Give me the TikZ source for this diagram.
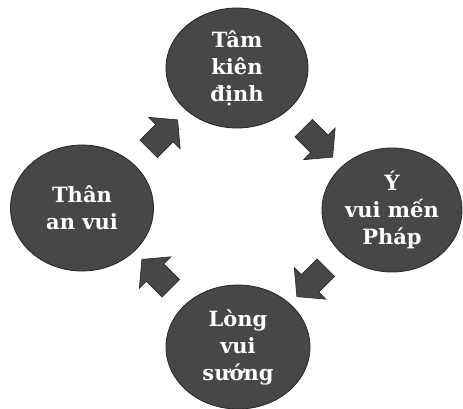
\documentclass[tikz,border=0pt]{standalone}
\usepackage{fontspec}
\setmainfont{DejaVu Serif}
\usetikzlibrary{shapes.geometric,shapes.arrows,calc}

\begin{document}
\begin{tikzpicture}[x=1pt, y=-1pt,
  stage/.style={ellipse, draw=black!85, line width=0.8pt, fill=black!72,
    text=white, align=center, inner sep=0pt,
    font=\fontsize{21}{27}\selectfont\bfseries},
  flowarrow/.style={single arrow, draw=black!85, fill=black!72,
    line width=0.6pt, inner xsep=0pt, inner ysep=12pt,
    minimum height=41pt, single arrow head extend=10pt,
    single arrow tip angle=100}]
  \useasboundingbox (0,0) rectangle (463,408);

  % Stages of the cycle
  \node[stage, minimum width=142pt, minimum height=120pt] (tam) at (237,68)
    {Tâm\\kiên\\định};
  \node[stage, minimum width=140pt, minimum height=124pt] (y) at (392,210)
    {Ý\\vui mến\\Pháp};
  \node[stage, minimum width=144pt, minimum height=124pt] (long) at (238,347)
    {Lòng\\vui\\sướng};
  \node[stage, minimum width=143pt, minimum height=126pt] (than) at (82,208)
    {Thân\\an vui};

  % Block arrows between the stages
  \node[flowarrow, rotate=-45] (a1) at ($(tam)!0.5!(y)$) {};
  \node[flowarrow, rotate=-135] (a2) at ($(y)!0.5!(long)$) {};
  \node[flowarrow, rotate=135] (a3) at ($(long)!0.5!(than)$) {};
  \node[flowarrow, rotate=45] (a4) at ($(than)!0.5!(tam)$) {};
\end{tikzpicture}
\end{document}
